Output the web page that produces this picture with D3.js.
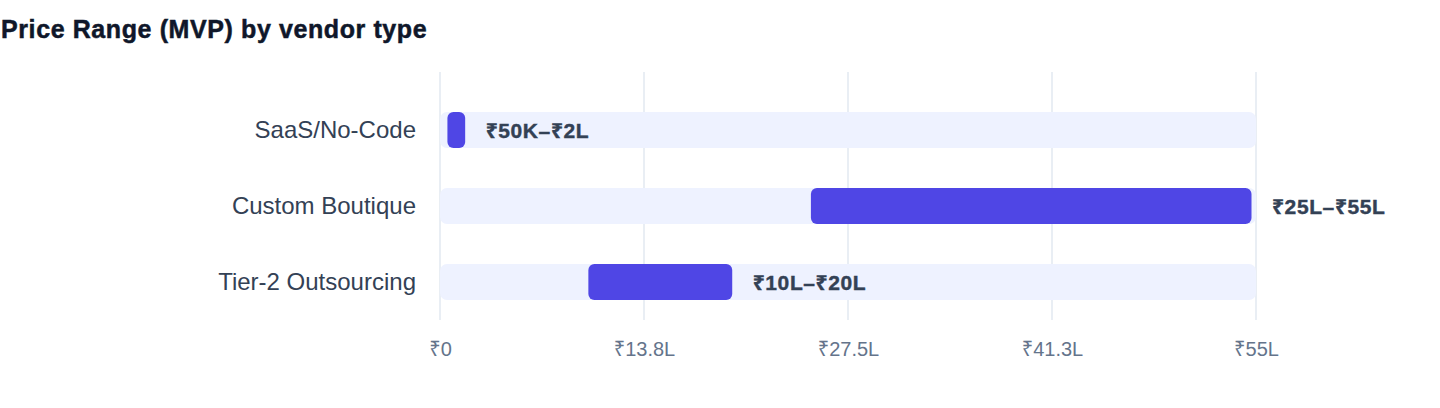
<!DOCTYPE html>
<html>
<head>
<meta charset="utf-8">
<script src="https://cdn.jsdelivr.net/npm/d3@7"></script>
<style>
  body { margin: 0; background: #fff; font-family: "Liberation Sans", Arial, "Noto Sans", sans-serif; }
</style>
</head>
<body>
<svg id="chart" width="1440" height="408"></svg>
<script>
// vendor types and their MVP price range, in lakhs (₹)
const categories = ['SaaS/No-Code', 'Custom Boutique', 'Tier-2 Outsourcing'];
const lowValues = [0.5, 25, 10];
const highValues = [2, 55, 20];
const rangeLabels = ['₹50K–₹2L', '₹25L–₹55L', '₹10L–₹20L'];
const tickValues = [0, 13.75, 27.5, 41.25, 55];
const tickLabels = ['₹0', '₹13.8L', '₹27.5L', '₹41.3L', '₹55L'];

const data = categories.map((c, i) => ({ name: c, lo: lowValues[i], hi: highValues[i], label: rangeLabels[i] }));

const FONT = '"Liberation Sans", Arial, "Noto Sans", sans-serif';
const svg = d3.select('#chart');
const margin = { top: 72, left: 440, right: 184, bottom: 88 };
const width = 1440 - margin.left - margin.right;
const height = 408 - margin.top - margin.bottom;

svg.append('text')
  .attr('x', 1)
  .attr('y', 38)
  .attr('font-family', FONT)
  .attr('font-size', 25)
  .attr('font-weight', 700)
  .attr('letter-spacing', 0.6)
  .attr('fill', '#0f172a')
  .attr('stroke', '#0f172a')
  .attr('stroke-width', 0.5)
  .text('Price Range (MVP) by vendor type');

const g = svg.append('g').attr('transform', `translate(${margin.left},${margin.top})`);

const xScale = d3.scaleLinear().domain([0, 55]).range([0, width]);
const yScale = d3.scaleBand()
  .domain(categories)
  .range([0, height])
  .paddingInner(0.526)
  .paddingOuter(0.395)
  .align(0.667);

// gridlines
g.selectAll('.grid')
  .data(tickValues)
  .join('line')
  .attr('class', 'grid')
  .attr('x1', (d) => xScale(d))
  .attr('x2', (d) => xScale(d))
  .attr('y1', 0)
  .attr('y2', height)
  .attr('stroke', '#e2e8f0')
  .attr('stroke-width', 1.5);

// x axis labels
const xAxis = d3.axisBottom(xScale)
  .tickValues(tickValues)
  .tickFormat((d, i) => tickLabels[i])
  .tickSize(0)
  .tickPadding(22);

const ax = g.append('g')
  .attr('transform', `translate(0, ${height})`)
  .call(xAxis);
ax.select('.domain').remove();
ax.selectAll('text')
  .attr('font-family', FONT)
  .attr('font-size', 20)
  .attr('fill', '#64748b');

// y axis labels
const yAxis = d3.axisLeft(yScale).tickSize(0).tickPadding(24);
const ay = g.append('g').call(yAxis);
ay.select('.domain').remove();
ay.selectAll('text')
  .attr('font-family', FONT)
  .attr('font-size', 24)
  .attr('fill', '#334155');

// background tracks
g.selectAll('.track')
  .data(data)
  .join('rect')
  .attr('class', 'track')
  .attr('x', 0)
  .attr('y', (d) => yScale(d.name))
  .attr('width', xScale(55))
  .attr('height', yScale.bandwidth())
  .attr('rx', 7)
  .attr('fill', '#eef2ff');

// range bars
g.selectAll('.bar')
  .data(data)
  .join('rect')
  .attr('class', 'bar')
  .attr('x', (d) => xScale(d.lo))
  .attr('y', (d) => yScale(d.name))
  .attr('width', (d) => xScale(d.hi) - xScale(d.lo) - 4.5)
  .attr('height', yScale.bandwidth())
  .attr('rx', 6)
  .attr('fill', '#4f46e5');

// range labels
g.selectAll('.val')
  .data(data)
  .join('text')
  .attr('class', 'val')
  .attr('x', (d) => xScale(d.hi) + 16)
  .attr('y', (d) => yScale(d.name) + yScale.bandwidth() / 2)
  .attr('dy', '0.36em')
  .attr('font-family', FONT)
  .attr('font-size', 21)
  .attr('font-weight', 700)
  .attr('letter-spacing', 0.6)
  .attr('fill', '#334155')
  .attr('stroke', '#334155')
  .attr('stroke-width', 0.4)
  .text((d) => d.label);
</script>
</body>
</html>
